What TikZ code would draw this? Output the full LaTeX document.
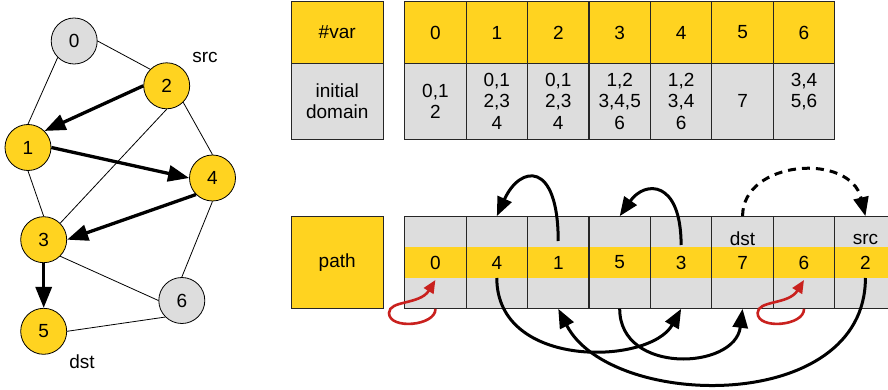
\documentclass[tikz,border=0pt]{standalone}
\usepackage{fontspec}
\setmainfont{Liberation Sans}
\usetikzlibrary{arrows.meta,calc}
\definecolor{ylw}{RGB}{255,211,32}
\definecolor{gry}{RGB}{221,221,221}
\definecolor{dred}{RGB}{201,33,30}
\newcommand\myfs{\fontsize{19}{21.5}\selectfont}
\tikzset{
  cellbase/.style={draw=black!85, line width=1.1pt, inner sep=0pt, align=center, font=\myfs},
  hdr/.style={cellbase, fill=ylw, minimum width=61.43pt, minimum height=61.6pt},
  dom/.style={cellbase, fill=gry, minimum width=61.43pt, minimum height=76pt},
  pcell/.style={cellbase, minimum width=61.43pt, minimum height=91.6pt,
    path picture={
      \fill[gry] (path picture bounding box.north west) rectangle (path picture bounding box.south east);
      \fill[ylw] ([yshift=15.35pt]path picture bounding box.west) rectangle ([yshift=-15.35pt]path picture bounding box.east);
    }},
  gnode/.style={circle, draw=black, line width=0.8pt, minimum size=46pt, inner sep=0pt, font=\myfs},
  lbl/.style={inner sep=0pt, font=\myfs},
  gedge/.style={line width=0.8pt},
  garrow/.style={line width=3.3pt, -{Triangle[length=21pt,width=16pt]}},
  parrow/.style={line width=3pt, -{Triangle[length=19pt,width=15pt]}},
  rarrow/.style={line width=2.6pt, draw=dred, -{Triangle[length=13pt,width=11pt]}},
}
\begin{document}
\begin{tikzpicture}[x=1pt,y=-1pt]
\clip (0,0) rectangle (888,390);
% graph
\node[gnode, fill=gry] (g0) at (74.2,41) {0};
\node[gnode, fill=ylw] (g2) at (166.7,85.8) {2};
\node[gnode, fill=ylw] (g1) at (28,147.5) {1};
\node[gnode, fill=ylw] (g4) at (212.5,178) {4};
\node[gnode, fill=ylw] (g3) at (43.7,239.7) {3};
\node[gnode, fill=gry] (g6) at (181.8,300.5) {6};
\node[gnode, fill=ylw] (g5) at (43.7,331.3) {5};
\node[lbl] (srcg) at (205,57) {src};
\node[lbl] (dstg) at (82,362) {dst};
\draw[gedge] (g0.south west) -- (g1.north);
\draw[gedge] (g0.east) -- (g2.north west);
\draw[gedge] (g2.south east) -- (g4.north);
\draw[gedge] (g2.south) -- (g3.north east);
\draw[gedge] (g1.south) -- (g3.north);
\draw[gedge] (g4.south) -- (g6.north);
\draw[gedge] (g3.south east) -- (g6.west);
\draw[gedge] (g6.south west) -- (g5.east);
\draw[garrow] (g2.west) -- (g1.north east);
\draw[garrow] (g1.east) -- (g4.west);
\draw[garrow] (g4.south west) -- (g3.east);
\draw[garrow] (g3.south) -- (g5.north);
% top table
\node[hdr, minimum width=92.3pt] (vh) at (337.2,32.5) {\#var};
\node[dom, minimum width=92.3pt] (dh) at (337.2,101.3) {initial\\domain};
\foreach \i in {0,...,6} {
  \node[hdr] (v\i) at ({404.7+(\i+0.5)*61.43},32.5) {\i};
}
\node[dom] (d0) at ({404.7+0.5*61.43},101.3) {0,1\\2};
\node[dom] (d1) at ({404.7+1.5*61.43},101.3) {0,1\\2,3\\4};
\node[dom] (d2) at ({404.7+2.5*61.43},101.3) {0,1\\2,3\\4};
\node[dom] (d3) at ({404.7+3.5*61.43},101.3) {1,2\\3,4,5\\6};
\node[dom] (d4) at ({404.7+4.5*61.43},101.3) {1,2\\3,4\\6};
\node[dom] (d5) at ({404.7+5.5*61.43},101.3) {7};
\node[dom] (d6) at ({404.7+6.5*61.43},101.3) {3,4\\5,6\\\phantom{0}};
% path table
\node[hdr, minimum width=92.3pt, minimum height=92.5pt] (ph) at (337.2,262.3) {path};
\foreach \v [count=\i from 0] in {0,4,1,5,3,7,6,2} {
  \node[pcell] (p\i) at ({404.7+(\i+0.5)*61.43},262.5) {\v};
}
\node[lbl] (dstp) at (742.5,239) {dst};
\node[lbl] (srcp) at (865.4,239) {src};
% arcs above
\coordinate (t1) at (558.2,241);
\draw[parrow] (t1) .. controls (558.2,160) and (520,165) .. (p1.north);
\coordinate (t4) at (681.1,245);
\draw[parrow] (t4) .. controls (681.1,180) and (645,180) .. (p3.north);
\draw[parrow, dash pattern=on 8pt off 6pt] (p5.north) .. controls (742.5,160) and (850,152) .. (p7.north);
% arcs below
\coordinate (b1) at (496.8,278);
\draw[parrow] (b1) .. controls (496.8,370) and (650,365) .. (p4.south);
\draw[parrow] (p3.south) .. controls (619.7,375) and (735,370) .. (p5.south);
\coordinate (b7) at (865.4,278);
\draw[parrow] (b7) .. controls (865.4,415) and (610,410) .. (p2.south);
% red loops
\coordinate (r0) at (435.4,280);
\draw[rarrow] (p0.south) .. controls (436,326) and (389,330) .. (389,313) .. controls (389,300) and (420,305) .. (r0);
\coordinate (r6) at (804,280);
\draw[rarrow] (p6.south) .. controls (804.6,326) and (757.6,330) .. (757.6,313) .. controls (757.6,300) and (788.6,305) .. (r6);
\end{tikzpicture}
\end{document}
